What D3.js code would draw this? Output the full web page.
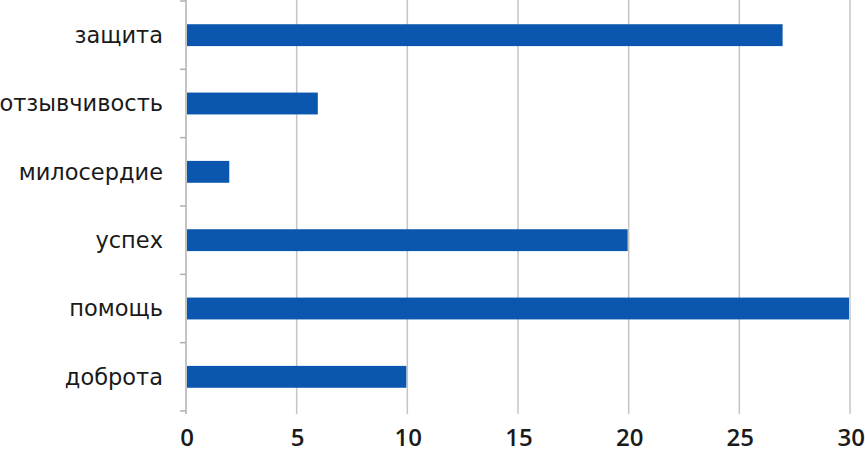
<!DOCTYPE html>
<html><head><meta charset="utf-8">
<script src="https://cdn.jsdelivr.net/npm/d3@7"></script>
<style>body{margin:0;background:#fff;}svg{display:block;}</style>
</head><body>
<svg id="c" width="865" height="455"></svg>
<script>
const categories = ["защита","отзывчивость","милосердие","успех","помощь","доброта"];
const values = [27, 6, 2, 20, 30, 10];
const xTicks = [0,5,10,15,20,25,30];

const svg = d3.select("#c");
const x = d3.scaleLinear().domain([0,30]).range([186,850]);
const y = d3.scaleBand().domain(categories).range([1,411]).paddingInner(0.68).paddingOuter(0.34);

// grid
svg.append("g").selectAll("line").data(xTicks.slice(1)).join("line")
  .attr("x1",d=>x(d)).attr("x2",d=>x(d)).attr("y1",0).attr("y2",414)
  .attr("stroke","#c4c4c4").attr("stroke-width",1.5);

// left axis line
svg.append("line").attr("x1",x(0)).attr("x2",x(0)).attr("y1",0).attr("y2",414)
  .attr("stroke","#b0b0b0").attr("stroke-width",1.5);

// category ticks at band boundaries
const step = y.step();
const bounds = d3.range(categories.length+1).map(i=>1+i*step);
svg.append("g").selectAll("line").data(bounds).join("line")
  .attr("x1",x(0)-6).attr("x2",x(0)).attr("y1",d=>d).attr("y2",d=>d)
  .attr("stroke","#b0b0b0").attr("stroke-width",1.5);

// bars
svg.append("g").selectAll("rect").data(categories).join("rect")
  .attr("x",x(0)+1).attr("y",d=>y(d))
  .attr("width",(d,i)=>x(values[i])-x(0)-2).attr("height",y.bandwidth())
  .attr("fill","#0b56ae");

// category labels
svg.append("g").selectAll("text").data(categories).join("text")
  .attr("x",163).attr("y",d=>y(d)+y.bandwidth()/2).attr("dy","0.35em")
  .attr("text-anchor","end")
  .attr("font-family","DejaVu Sans, sans-serif").attr("font-size",22.5)
  .attr("fill","#1a1a1a").text(d=>d);

// x tick labels
svg.append("g").selectAll("text").data(xTicks).join("text")
  .attr("x",d=>x(d)+1).attr("y",446)
  .attr("text-anchor",(d,i)=>i===xTicks.length-1?"end":"middle")
  .attr("dx",(d,i)=>i===xTicks.length-1?"14":"0")
  .attr("font-family","Open Sans, sans-serif").attr("font-weight","600").attr("font-size",24)
  .attr("fill","#1a1a1a").text(d=>d);
</script>
</body></html>
